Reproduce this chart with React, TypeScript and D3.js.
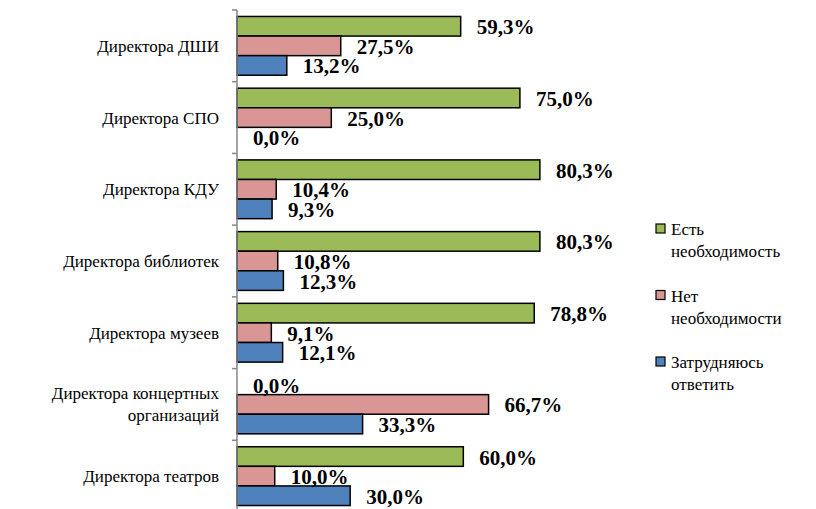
import * as d3 from "d3";
import React from "react";

// categories from top to bottom
const categories = [
    ["Директора ДШИ"],
    ["Директора СПО"],
    ["Директора КДУ"],
    ["Директора библиотек"],
    ["Директора музеев"],
    ["Директора концертных", "организаций"],
    ["Директора театров"],
];
const seriesNames = [["Есть", "необходимость"], ["Нет", "необходимости"], ["Затрудняюсь", "ответить"]];
const seriesColors = ["#9BBB59", "#D99694", "#4F81BD"];

const yesValues = [59.3, 75.0, 80.3, 80.3, 78.8, 0.0, 60.0];
const noValues = [27.5, 25.0, 10.4, 10.8, 9.1, 66.7, 10.0];
const hardValues = [13.2, 0.0, 9.3, 12.3, 12.1, 33.3, 30.0];

const serif = {fontFamily: "Liberation Serif"};

const fmt = (d) => d3.format(".1f")(d).replace(".", ",") + "%";

const App = () => {
    const width = 800, height = 501;
    const series = [yesValues, noValues, hardValues];

    const x = d3.scaleLinear().domain([0, 100]).range([237, 614.2]);
    const y = d3.scaleBand().domain(d3.range(categories.length)).range([10, 512]).padding(0);
    const inner = d3.scaleBand().domain(d3.range(3)).range([0, y.bandwidth()])
        .paddingInner(0).paddingOuter(0.33);

    return (
        <svg width={width} height={height} className="chart">
            <style>{`.chart text { font-family: "Liberation Serif", "Times New Roman", serif !important; }`}</style>
            <g transform="translate(-8,-8)">
                {/* bars */}
                {series.map((vals, s) => (
                    <g key={"b" + s}>
                        {vals.map((d, i) => (
                            <rect key={i} x={x(0)} y={y(i) + inner(s)}
                                  width={x(d) - x(0)} height={inner.bandwidth()}
                                  fill={seriesColors[s]} stroke={d > 0 ? "#000" : "none"} strokeWidth={1.5}/>
                        ))}
                    </g>
                ))}

                {/* axis line + ticks */}
                <g stroke="#868686" strokeWidth={1.5}>
                    <line x1={x(0)} x2={x(0)} y1={10} y2={512}/>
                    {d3.range(categories.length + 1).map(i => {
                        const ty = 10 + i * y.step();
                        return <line key={i} x1={x(0) - 5} x2={x(0)} y1={ty} y2={ty}/>;
                    })}
                </g>

                {/* value labels */}
                {series.map((vals, s) => (
                    <g key={"l" + s}>
                        {vals.map((d, i) => (
                            <text key={i} x={x(d) + 16} y={y(i) + inner(s) + inner.bandwidth() / 2 + 8}
                                  style={serif} fontFamily="Liberation Serif" fontWeight="bold" fontSize={21}>{fmt(d)}</text>
                        ))}
                    </g>
                ))}

                {/* category labels */}
                {categories.map((lines, i) => {
                    const cy = y(i) + y.bandwidth() / 2;
                    return lines.map((ln, k) => (
                        <text key={i + "-" + k} x={219}
                              y={cy + (k - (lines.length - 1) / 2) * 22 + 6}
                              style={serif} fontFamily="Liberation Serif" fontSize={17} textAnchor="end">{ln}</text>
                    ));
                })}

                {/* legend */}
                {seriesNames.map((lines, s) => {
                    const ly = 229 + s * 66.5;
                    return (
                        <g key={s}>
                            <rect x={656} y={ly - 5} width={9} height={9}
                                  fill={seriesColors[s]} stroke="#000" strokeWidth={1.2}/>
                            {lines.map((ln, k) => (
                                <text key={k} x={671} y={ly + k * 22 + 6} style={serif}
                                      fontFamily="Liberation Serif" fontSize={17}>{ln}</text>
                            ))}
                        </g>
                    );
                })}
            </g>
        </svg>
    );
};

export default App;
